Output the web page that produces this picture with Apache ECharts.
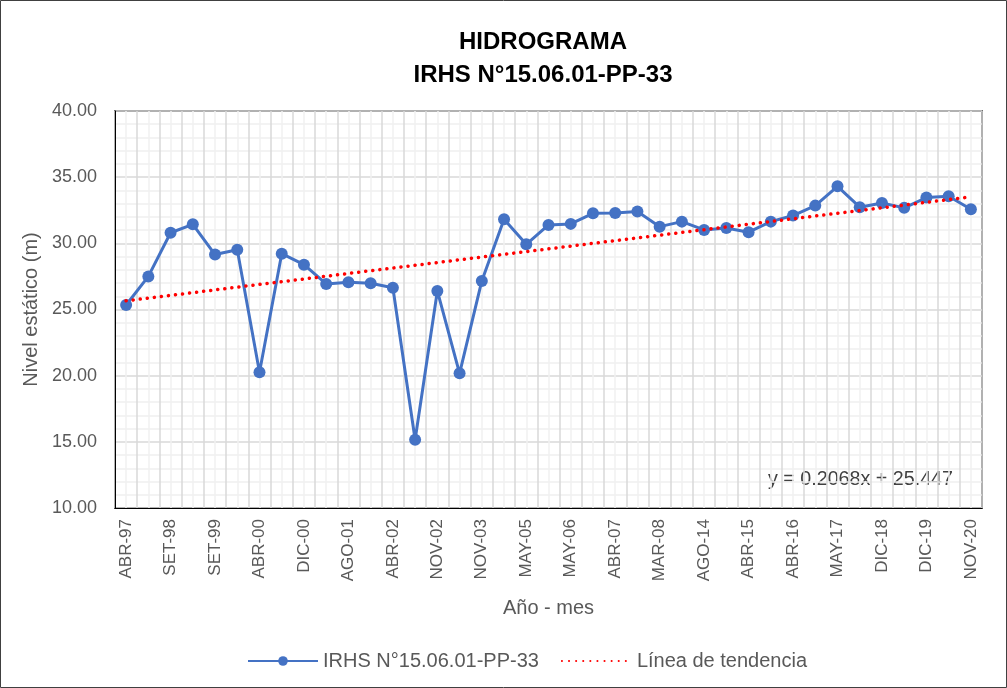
<!DOCTYPE html>
<html>
<head>
<meta charset="utf-8">
<script src="https://cdn.jsdelivr.net/npm/echarts@6/dist/echarts.min.js"></script>
<style>
  html, body { margin: 0; padding: 0; background: #fff; }
  #chart { width: 1007px; height: 688px; }
</style>
</head>
<body>
<div id="chart"></div>
<script>
const categories = [
  "ABR-97", "DIC-97", "SET-98", "ABR-99", "SET-99", "DIC-99", "ABR-00", "AGO-00",
  "DIC-00", "ABR-01", "AGO-01", "DIC-01", "ABR-02", "AGO-02", "NOV-02", "ABR-03",
  "NOV-03", "MAY-04", "MAY-05", "NOV-05", "MAY-06", "NOV-06", "ABR-07", "OCT-07",
  "MAR-08", "AGO-13", "AGO-14", "NOV-14", "ABR-15", "NOV-15", "ABR-16", "NOV-16",
  "MAY-17", "DIC-17", "DIC-18", "MAY-19", "DIC-19", "MAY-20", "NOV-20"
];
const nivel = [
  25.34, 27.50, 30.80, 31.44, 29.15, 29.52, 20.26, 29.22,
  28.39, 26.93, 27.06, 26.98, 26.65, 15.16, 26.40, 20.18,
  27.16, 31.82, 29.93, 31.39, 31.47, 32.27, 32.30, 32.40,
  31.26, 31.64, 31.01, 31.16, 30.84, 31.64, 32.10, 32.85,
  34.31, 32.73, 33.05, 32.68, 33.46, 33.56, 32.58
];
// Excel linear trend shown on the chart
const trendSlope = 0.2068;
const trendIntercept = 25.447;
const trendLabel = "y = 0.2068x + 25.447";
const seriesName = "IRHS N°15.06.01-PP-33";
const trendName = "Línea de tendencia";

const trend = categories.map((c, i) => +(trendSlope * (i + 1) + trendIntercept).toFixed(3));

const font = "'Liberation Sans', Arial, sans-serif";
const chart = echarts.init(document.getElementById("chart"));

const option = {
  backgroundColor: "#fff",
  animation: false,
  title: {
    text: "HIDROGRAMA\nIRHS N°15.06.01-PP-33",
    left: 538,
    textAlign: "center",
    top: 21,
    textStyle: {
      fontFamily: font,
      fontSize: 24,
      fontWeight: "bold",
      color: "#000",
      lineHeight: 33
    }
  },
  legend: {
    bottom: 12,
    left: 242,
    itemWidth: 70,
    itemHeight: 12,
    itemGap: 22,
    textStyle: { fontFamily: font, fontSize: 20, color: "#595959" },
    data: [seriesName, { name: trendName, itemStyle: { opacity: 0 } }]
  },
  grid: {
    left: 115,
    right: 25,
    top: 111,
    bottom: 180,
    show: true,
    borderColor: "#000",
    borderWidth: 1.5
  },
  xAxis: [
    {
      type: "category",
      data: categories,
      boundaryGap: true,
      name: "Año - mes",
      nameLocation: "middle",
      nameGap: 90,
      nameTextStyle: { fontFamily: font, fontSize: 20, color: "#595959" },
      axisLine: { lineStyle: { color: "#000" } },
      axisTick: { show: false },
      axisLabel: {
        interval: 1,
        rotate: 90,
        margin: 11,
        fontFamily: font,
        fontSize: 17,
        color: "#595959"
      },
      splitLine: { show: false }
    },
    {
      type: "value",
      min: 0,
      max: 78,
      interval: 1,
      position: "bottom",
      show: true,
      axisLine: { show: false },
      axisTick: { show: false },
      axisLabel: { show: false },
      splitLine: {
        show: true,
        lineStyle: { color: ["#d9d9d9", "#f0f0f0"], width: 1.5 }
      }
    }
  ],
  yAxis: {
    type: "value",
    min: 10,
    max: 40,
    interval: 5,
    name: "Nivel estático (m)",
    nameLocation: "middle",
    nameGap: 69,
    nameTextStyle: { fontFamily: font, fontSize: 20, color: "#595959" },
    axisLine: { show: true, lineStyle: { color: "#000" } },
    axisTick: { show: false },
    axisLabel: {
      margin: 18,
      fontFamily: font,
      fontSize: 18,
      color: "#595959",
      formatter: v => v.toFixed(2)
    },
    splitLine: { lineStyle: { color: "#d9d9d9", width: 1.5 } },
    minorTick: { show: false, splitNumber: 5 },
    minorSplitLine: { show: true, lineStyle: { color: "#f0f0f0", width: 1.5 } }
  },
  graphic: [
    {
      type: "rect",
      shape: { x: 0.5, y: 0.5, width: 1006, height: 687 },
      style: { fill: null, stroke: "#404040", lineWidth: 1 },
      silent: true
    },
    {
      type: "text",
      left: 768,
      top: 470,
      style: {
        text: trendLabel,
        fontFamily: font,
        fontSize: 19.7,
        fill: "#404040"
      }
    }
  ],
  series: [
    {
      name: seriesName,
      type: "line",
      xAxisIndex: 0,
      data: nivel,
      symbol: "circle",
      symbolSize: 12,
      lineStyle: { color: "#4472C4", width: 3 },
      itemStyle: { color: "#4472C4" },
      z: 3
    },
    {
      name: trendName,
      type: "line",
      xAxisIndex: 0,
      data: trend,
      symbol: "none",
      lineStyle: { color: "#FF0000", width: 3.5, type: [0.1, 7], cap: "round" },
      itemStyle: { color: "#FF0000" },
      z: 4
    }
  ]
};
chart.setOption(option);
</script>
</body>
</html>
